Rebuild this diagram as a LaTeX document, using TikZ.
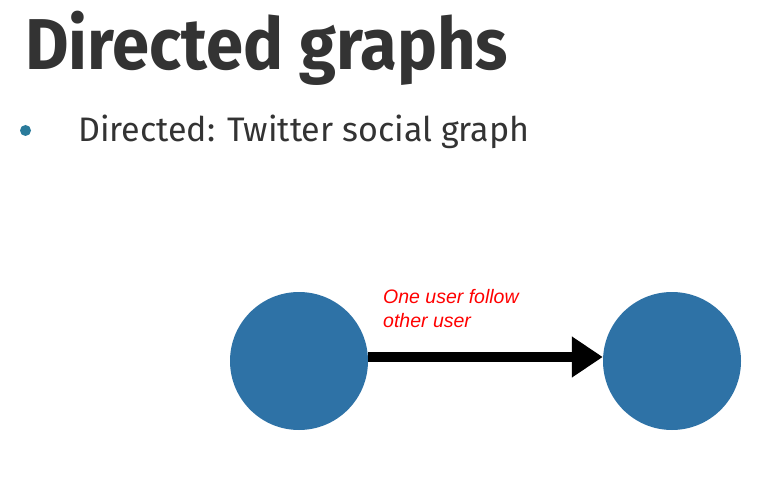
\documentclass[tikz,border=0pt]{standalone}
\usepackage{fontspec}
\setmainfont{Fira Sans}
\newfontfamily\labelfont{Liberation Sans}
\usetikzlibrary{arrows.meta}
\definecolor{nodeblue}{RGB}{46,114,166}
\definecolor{titlegray}{RGB}{51,51,51}
\definecolor{bulletblue}{RGB}{42,123,155}
\tikzset{
  usernode/.style={circle, fill=nodeblue, minimum size=138pt, inner sep=0pt},
  titletext/.style={anchor=base west, inner sep=0pt, text=titlegray, font=\bfseries\fontsize{72}{80}\selectfont},
  bullettext/.style={anchor=base west, inner sep=0pt, text=titlegray, font=\fontsize{34}{40}\selectfont},
  edgelabel/.style={anchor=base west, inner sep=0pt, text=red, align=left, font=\labelfont\itshape\fontsize{19.5}{24}\selectfont},
  followarrow/.style={line width=10pt, -{Triangle[length=31pt,width=39pt]}}
}
\begin{document}
\begin{tikzpicture}[x=1pt,y=-1pt]
\useasboundingbox (0,0) rectangle (774,500);
\node[titletext] (title) at (25,70) {\scalebox{0.93}[1]{Directed graphs}};
\node[circle, fill=bulletblue, minimum size=11pt, inner sep=0pt] (bullet) at (25.5,130.5) {};
\node[bullettext] (item) at (78,142) {Directed: Twitter social graph};
\node[usernode] (u1) at (299,361) {};
\node[usernode] (u2) at (672,361) {};
\node[edgelabel] (lbl) at (383,327) {One user follow\\other user};
\draw[followarrow] ([yshift=4pt]u1.east) -- ([yshift=4pt]u2.west);
\end{tikzpicture}
\end{document}
